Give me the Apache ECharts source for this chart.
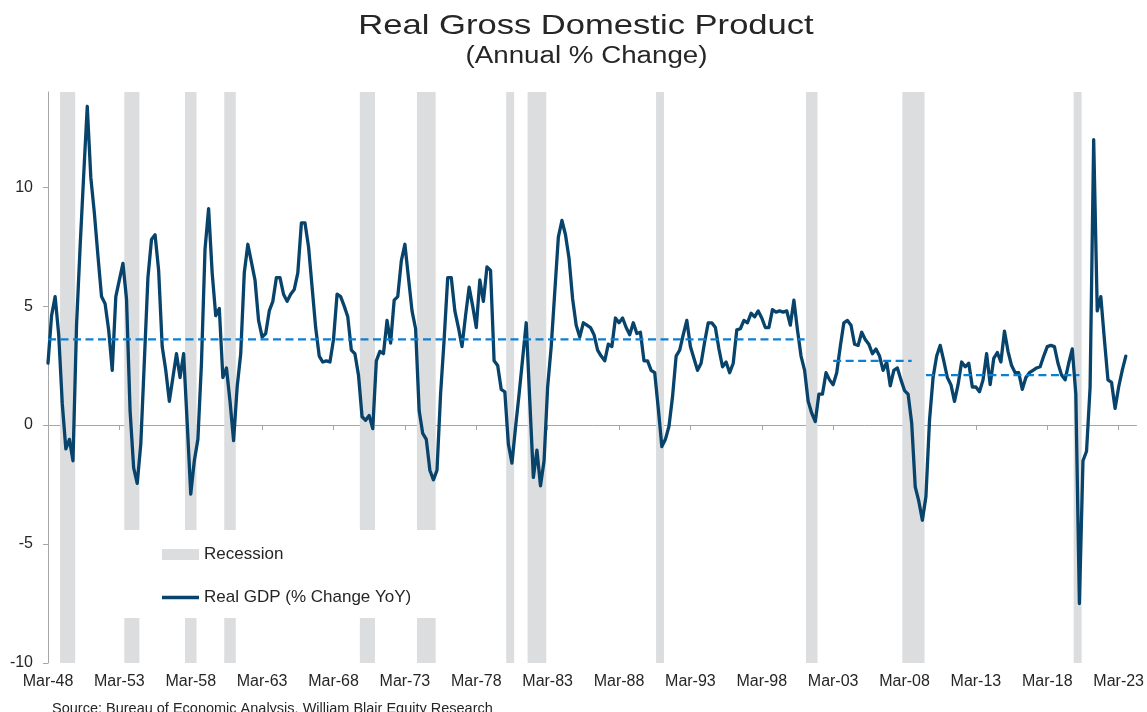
<!DOCTYPE html>
<html>
<head>
<meta charset="utf-8">
<title>Real Gross Domestic Product</title>
<script src="https://cdn.jsdelivr.net/npm/echarts@6/dist/echarts.min.js"></script>
<style>
    html, body { margin: 0; padding: 0; background: #fff; }
    #chart { width: 1147px; height: 712px; }
</style>
</head>
<body>
<div id="chart"></div>
<script>
    // quarter labels, Mar-48 .. Jun-24 (axis runs a few quarters past the data)
    const months = ["Mar", "Jun", "Sep", "Dec"];
    const firstYear = 1948;
    const quarterCount = 306;
    const quarters = [];
    for (let i = 0; i < quarterCount; i++) {
        let yr = (firstYear + Math.floor(i / 4)) % 100;
        quarters.push(months[i % 4] + "-" + String(yr).padStart(2, "0"));
    }

    // real GDP, % change year over year, Mar-48 .. Sep-23
    const gdpYoY = [
        2.6, 4.6, 5.4, 3.8,      0.9, -1.0, -0.6, -1.5,    4.2, 7.5, 10.5, 13.4,     10.4, 8.9, 7.1, 5.4,
        5.1, 4.0, 2.3, 5.4,      6.1, 6.8, 5.3, 0.6,       -1.8, -2.45, -0.8, 2.7,   6.2, 7.8, 8.0, 6.5,
        3.3, 2.3, 1.0, 2.0,      3.0, 2.0, 3.0, 0.1,       -2.9, -1.5, -0.6, 2.6,    7.4, 9.1, 6.4, 4.6,
        4.9, 2.0, 2.4, 1.0,      -0.65, 1.6, 3.0, 6.4,     7.6, 6.85, 6.1, 4.4,      3.7, 3.85, 4.8, 5.2,
        6.2, 6.2, 5.5, 5.2,      5.5, 5.7, 6.4, 8.5,       8.5, 7.5, 5.8, 4.1,       2.9, 2.65, 2.7, 2.65,
        3.6, 5.5, 5.4, 5.0,      4.55, 3.15, 3.0, 2.1,     0.35, 0.2, 0.4, -0.15,    2.7, 3.1, 3.0, 4.4,
        3.45, 5.25, 5.4, 6.9,    7.6, 6.2, 4.8, 4.05,      0.6, -0.35, -0.6, -1.9,   -2.3, -1.9, 1.3, 3.6,
        6.2, 6.2, 4.8, 4.1,      3.3, 4.6, 5.8, 5.0,       4.1, 6.1, 5.2, 6.65,      6.5, 2.7, 2.5, 1.5,
        1.4, -0.8, -1.6, -0.1,   1.3, 2.8, 4.3, 1.0,       -2.2, -1.05, -2.55, -1.5, 1.6, 3.3, 5.6, 7.9,
        8.6, 8.0, 7.0, 5.3,      4.2, 3.7, 4.3, 4.2,       4.1, 3.8, 3.15, 2.9,      2.7, 3.4, 3.3, 4.5,
        4.3, 4.5, 4.1, 3.8,      4.3, 3.85, 3.9, 2.7,      2.7, 2.3, 2.2, 0.7,       -0.9, -0.6, -0.05, 1.2,
        2.9, 3.15, 3.8, 4.4,     3.3, 2.8, 2.3, 2.6,       3.5, 4.3, 4.3, 4.1,       3.2, 2.45, 2.65, 2.2,
        2.6, 4.0, 4.05, 4.4,     4.3, 4.7, 4.55, 4.8,      4.5, 4.1, 4.1, 4.85,      4.75, 4.8, 4.75, 4.8,
        4.2, 5.25, 4.0, 2.9,     2.3, 1.0, 0.5, 0.15,      1.3, 1.3, 2.2, 1.9,       1.7, 2.2, 3.3, 4.3,
        4.4, 4.2, 3.4, 3.35,     3.9, 3.6, 3.4, 3.0,       3.2, 2.9, 2.3, 2.65,      1.65, 2.3, 2.4, 1.9,
        1.45, 1.3, 0.1, -2.6,    -3.2, -4.0, -3.0, 0.2,    2.0, 2.9, 3.35, 2.7,      2.0, 1.7, 1.0, 1.7,
        2.65, 2.45, 2.6, 1.6,    1.6, 1.4, 1.9, 3.0,       1.7, 2.8, 3.05, 2.65,     3.95, 3.1, 2.5, 2.2,
        2.2, 1.5, 2.0, 2.2,      2.3, 2.4, 2.45, 2.9,      3.3, 3.35, 3.3, 2.6,      2.1, 1.9, 2.6, 3.2,
        1.3, -7.5, -1.5, -1.1,   1.6, 12.0, 4.8, 5.4,      3.6, 1.9, 1.8, 0.7,       1.6, 2.3, 2.9
    ];

    // shaded quarters (first and last) of each recession
    const recessions = [
        ["Mar-49", "Dec-49"], ["Sep-53", "Jun-54"], ["Dec-57", "Jun-58"], ["Sep-60", "Mar-61"],
        ["Mar-70", "Dec-70"], ["Mar-74", "Mar-75"], ["Jun-80", "Sep-80"], ["Dec-81", "Dec-82"],
        ["Dec-90", "Mar-91"], ["Jun-01", "Dec-01"], ["Mar-08", "Jun-09"], ["Mar-20", "Jun-20"]
    ];

    // average growth over each period (dashed lines)
    const avgFrom = ["Mar-48", "Mar-03", "Sep-09"];
    const avgTo = ["Mar-01", "Sep-08", "Jun-20"];
    const avgValue = [3.6, 2.7, 2.1];

    const yTicks = [-10, -5, 0, 5, 10];

    const font = "'Liberation Sans', Arial, sans-serif";
    const textColor = "#262626";
    const gdpColor = "#07436a";

    // recession flags per quarter
    let recessionBars = quarters.map(() => "-");
    recessions.forEach((r) => {
        let a = quarters.indexOf(r[0]);
        let b = quarters.indexOf(r[1]);
        for (let i = a; i <= b; i++) recessionBars[i] = 1;
    });

    // one dashed series per average
    let avgSeries = avgValue.map((v, k) => {
        let a = quarters.indexOf(avgFrom[k]);
        let b = quarters.indexOf(avgTo[k]);
        let data = quarters.map((q, i) => (i >= a && i <= b) ? v : null);
        return {
            name: "avg" + k,
            type: "line",
            data: data,
            xAxisIndex: 0,
            yAxisIndex: 0,
            symbol: "none",
            silent: true,
            z: 4,
            lineStyle: { color: "#0a7fd3", width: 2.3, type: [8, 4.5] }
        };
    });

    let chart = echarts.init(document.getElementById("chart"));
    let option = {
        animation: false,
        backgroundColor: "#fff",
        textStyle: { fontFamily: font },
        graphic: [
            {
                type: "text", x: 586, y: 26.7, scaleX: 1.235,
                style: { text: "Real Gross Domestic Product", fontSize: 28, fontFamily: font, fill: textColor, align: "center", verticalAlign: "middle" }
            },
            {
                type: "text", x: 586.5, y: 56.7, scaleX: 1.19,
                style: { text: "(Annual % Change)", fontSize: 23.3, fontFamily: font, fill: textColor, align: "center", verticalAlign: "middle" }
            },
            {
                type: "text", x: 52, y: 708.5,
                style: { text: "Source: Bureau of Economic Analysis, William Blair Equity Research", fontSize: 14.5, fontFamily: font, fill: textColor, align: "left", verticalAlign: "middle" }
            }
        ],
        legend: {
            orient: "vertical",
            left: 100,
            top: 530,
            padding: [16, 30, 12, 62],
            backgroundColor: "#fff",
            itemWidth: 37,
            itemHeight: 11,
            itemGap: 26,
            selectedMode: false,
            textStyle: { fontSize: 17, color: textColor, fontFamily: font },
            data: [
                { name: "Recession", icon: "rect" },
                { name: "Real GDP (% Change YoY)", icon: "path://M0,0L37,0L37,3.3L0,3.3Z", itemStyle: { color: gdpColor } }
            ]
        },
        grid: { left: 48, right: 10, top: 92, bottom: 49 },
        xAxis: [
            {
                type: "category",
                data: quarters,
                position: "bottom",
                boundaryGap: false,
                axisLine: { onZero: true, onZeroAxisIndex: 0, lineStyle: { color: "#a6a6a6", width: 1 } },
                axisTick: { show: true, interval: 19, length: 5, lineStyle: { color: "#a6a6a6" } },
                axisLabel: { show: false },
                splitLine: { show: false }
            },
            {
                type: "category",
                data: quarters,
                position: "bottom",
                boundaryGap: false,
                axisLine: { show: false, onZero: false },
                axisTick: { show: false },
                axisLabel: { interval: 19, fontSize: 16, color: textColor, margin: 11, fontFamily: font },
                splitLine: { show: false }
            }
        ],
        yAxis: [
            {
                type: "value",
                min: -10,
                max: 14,
                axisLine: { show: true, lineStyle: { color: "#a6a6a6", width: 1 } },
                axisTick: { show: true, length: 5, customValues: yTicks, lineStyle: { color: "#a6a6a6" } },
                axisLabel: { customValues: yTicks, fontSize: 16, color: textColor, margin: 15, fontFamily: font },
                splitLine: { show: false }
            },
            {
                type: "value",
                min: 0,
                max: 1,
                show: false
            }
        ],
        series: [
            {
                name: "Recession",
                type: "bar",
                xAxisIndex: 0,
                yAxisIndex: 1,
                data: recessionBars,
                barWidth: 4.4,
                barGap: "-100%",
                silent: true,
                z: 1,
                itemStyle: { color: "#dcdddf" }
            },
            {
                name: "Real GDP (% Change YoY)",
                type: "line",
                xAxisIndex: 0,
                yAxisIndex: 0,
                data: gdpYoY,
                symbol: "none",
                z: 3,
                lineStyle: { color: gdpColor, width: 3.3, join: "round", cap: "round" },
                itemStyle: { color: gdpColor }
            }
        ].concat(avgSeries)
    };
    chart.setOption(option);
</script>
</body>
</html>
